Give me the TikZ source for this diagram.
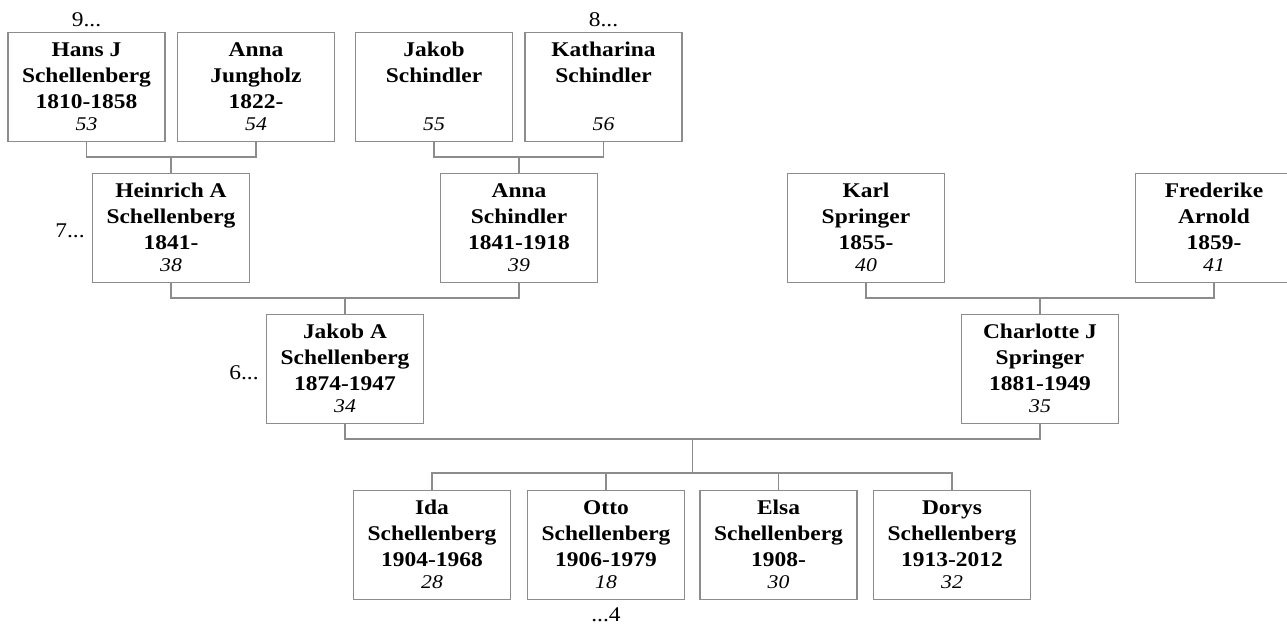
\documentclass[tikz,border=0pt]{standalone}
\usepackage{fontspec}
\setmainfont{Liberation Serif}[FakeStretch=1.12]
\definecolor{lnc}{RGB}{140,140,140}
\tikzset{
  person/.style={draw=lnc, line width=1.2bp, fill=white, minimum width=157bp,
    minimum height=109bp, inner sep=0pt, align=center,
    font=\fontsize{21}{26}\selectfont\bfseries, anchor=north},
  link/.style={draw=lnc, line width=1.2bp},
  more/.style={font=\fontsize{21}{26}\selectfont, inner sep=0pt}
}
\newcommand{\pnum}[1]{\\[-4bp]{\fontsize{19.5}{17.5}\selectfont\mdseries\itshape\strut #1}}
\begin{document}
\begin{tikzpicture}[x=1bp,y=-1bp]
\clip (0,0) rectangle (1287,628);
\fill[white] (0,0) rectangle (1287,628);
% row 1
\node[person] (hans) at (86.5,32) {\strut Hans J\\Schellenberg\\1810-1858\pnum{53}};
\node[person] (annaj) at (256,32) {\strut Anna\\Jungholz\\1822-\pnum{54}};
\node[person] (jakobs) at (434,32) {\strut Jakob\\Schindler\\\strut\pnum{55}};
\node[person] (kath) at (603.5,32) {\strut Katharina\\Schindler\\\strut\pnum{56}};
% row 2
\node[person] (heinrich) at (171,173) {\strut Heinrich A\\Schellenberg\\1841-\pnum{38}};
\node[person] (annas) at (519,173) {\strut Anna\\Schindler\\1841-1918\pnum{39}};
\node[person] (karl) at (866,173) {\strut Karl\\Springer\\1855-\pnum{40}};
\node[person] (fred) at (1214,173) {\strut Frederike\\Arnold\\1859-\pnum{41}};
% row 3
\node[person] (jakoba) at (345,314) {\strut Jakob A\\Schellenberg\\1874-1947\pnum{34}};
\node[person] (charl) at (1040,314) {\strut Charlotte J\\Springer\\1881-1949\pnum{35}};
% row 4
\node[person] (ida) at (432,490) {\strut Ida\\Schellenberg\\1904-1968\pnum{28}};
\node[person] (otto) at (606,490) {\strut Otto\\Schellenberg\\1906-1979\pnum{18}};
\node[person] (elsa) at (778.5,490) {\strut Elsa\\Schellenberg\\1908-\pnum{30}};
\node[person] (dorys) at (952,490) {\strut Dorys\\Schellenberg\\1913-2012\pnum{32}};
% junctions
\coordinate (j1) at (171,157);
\coordinate (j2) at (519,157);
\coordinate (j3) at (345,298);
\coordinate (j4) at (1040,298);
\coordinate (j5) at (692.5,439);
\coordinate (cb) at (692.5,473);
% connectors
\draw[link] (hans.south) |- (j1) -| (annaj.south);
\draw[link] (j1) -- (heinrich.north);
\draw[link] (jakobs.south) |- (j2) -| (kath.south);
\draw[link] (j2) -- (annas.north);
\draw[link] (heinrich.south) |- (j3) -| (annas.south);
\draw[link] (j3) -- (jakoba.north);
\draw[link] (karl.south) |- (j4) -| (fred.south);
\draw[link] (j4) -- (charl.north);
\draw[link] (jakoba.south) |- (j5) -| (charl.south);
\draw[link] (j5) -- (cb);
\draw[link] (ida.north) |- (cb) -| (dorys.north);
\draw[link] (otto.north) -- (otto.north |- cb);
\draw[link] (elsa.north) -- (elsa.north |- cb);
% continuation marks
\node[more, anchor=base] (m9) at ([yshift=5bp]hans.north) {9...};
\node[more, anchor=base] (m8) at ([yshift=5bp]kath.north) {8...};
\node[more, anchor=base east] (m7) at ([xshift=-7bp,yshift=-9.5bp]heinrich.west) {7...};
\node[more, anchor=base east] (m6) at ([xshift=-7bp,yshift=-10.5bp]jakoba.west) {6...};
\node[more, anchor=base] (m4) at ([yshift=-21bp]otto.south) {...4};
\end{tikzpicture}
\end{document}
